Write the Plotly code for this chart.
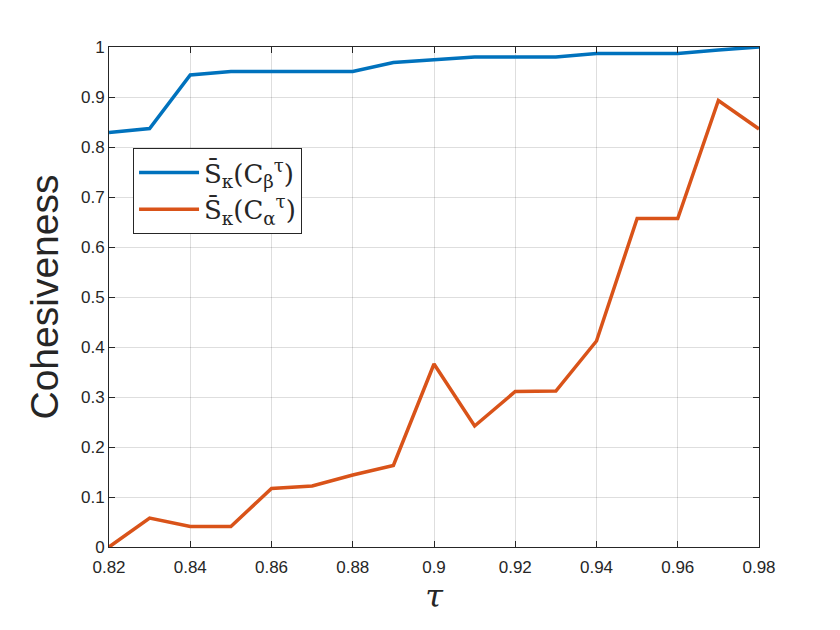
import plotly.graph_objects as go

tau = [0.82, 0.83, 0.84, 0.85, 0.86, 0.87, 0.88, 0.89, 0.90, 0.91, 0.92, 0.93, 0.94, 0.95, 0.96, 0.97, 0.98]
s_beta = [0.829, 0.837, 0.944, 0.951, 0.951, 0.951, 0.951, 0.969, 0.974, 0.980, 0.980, 0.980, 0.987, 0.987, 0.987, 0.994, 1.0]
s_alpha = [0.0, 0.058, 0.041, 0.041, 0.117, 0.122, 0.144, 0.163, 0.366, 0.242, 0.311, 0.312, 0.412, 0.657, 0.657, 0.893, 0.836]

x_ticks = [0.82, 0.84, 0.86, 0.88, 0.90, 0.92, 0.94, 0.96, 0.98]
x_tick_labels = ["0.82", "0.84", "0.86", "0.88", "0.9", "0.92", "0.94", "0.96", "0.98"]
y_ticks = [0, 0.1, 0.2, 0.3, 0.4, 0.5, 0.6, 0.7, 0.8, 0.9, 1.0]
y_tick_labels = ["0", "0.1", "0.2", "0.3", "0.4", "0.5", "0.6", "0.7", "0.8", "0.9", "1"]

name_beta = "S̄<sub>κ</sub>(C<sub>β</sub><sup>τ</sup>)"
name_alpha = "S̄<sub>κ</sub>(C<sub>α</sub><sup>τ</sup>)"

fig = go.Figure()
fig.add_trace(go.Scatter(x=tau, y=s_beta, mode="lines", name=name_beta,
                         line=dict(color="#0072BD", width=3.5)))
fig.add_trace(go.Scatter(x=tau, y=s_alpha, mode="lines", name=name_alpha,
                         line=dict(color="#D95319", width=3.5)))

axis_common = dict(
    showline=True, linecolor="#262626", linewidth=1, mirror="ticks",
    ticks="inside", ticklen=6, tickcolor="#262626",
    showgrid=True, gridcolor="rgba(0,0,0,0.13)", gridwidth=1,
    zeroline=False,
    tickfont=dict(family="Liberation Sans, Arial", size=17, color="#262626"),
)

fig.update_layout(
    width=840, height=630,
    margin=dict(l=101, r=89, t=39, b=91),
    plot_bgcolor="white", paper_bgcolor="white",
    xaxis=dict(range=[0.82, 0.98], tickvals=x_ticks, ticktext=x_tick_labels,
               ticklabelstandoff=5,
               title=dict(text="<i>τ</i>", font=dict(family="DejaVu Serif", size=32, color="#262626"), standoff=8),
               **axis_common),
    yaxis=dict(range=[0, 1], tickvals=y_ticks, ticktext=y_tick_labels,
               title=dict(text="Cohesiveness", font=dict(family="Liberation Sans, Arial", size=39, color="#262626"), standoff=10),
               **axis_common),
    legend=dict(x=0.037, y=0.798, xanchor="left", yanchor="top",
                bgcolor="white", bordercolor="#262626", borderwidth=1,
                font=dict(family="DejaVu Serif", size=26, color="#262626"),
                itemwidth=60, tracegroupgap=0),
    showlegend=True,
)

fig.write_html("out.html")
